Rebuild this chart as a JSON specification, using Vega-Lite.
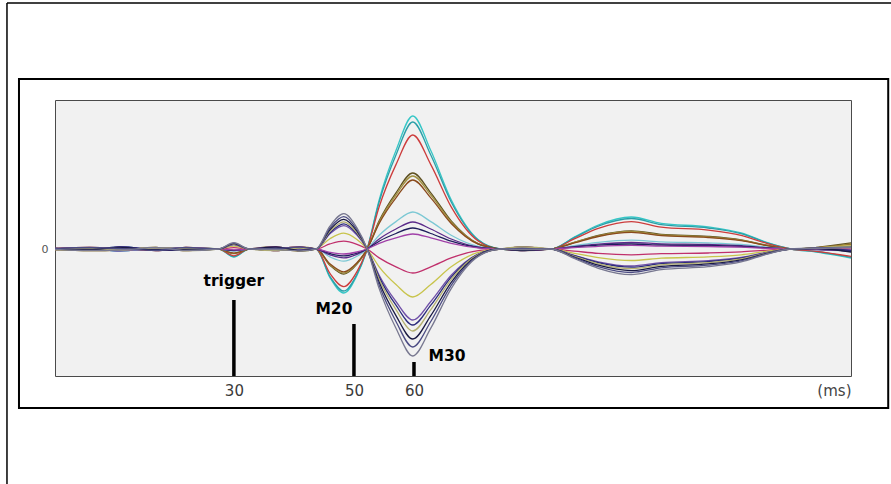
{
"$schema":"https://vega.github.io/schema/vega-lite/v6.json",
"width":796,"height":276,
"autosize":{"type":"none"},
"padding":{"left":55,"top":100,"right":40,"bottom":108},
"background":"white",
"config":{"view":{"fill":"#f1f1f1","stroke":"#4a4a4a","strokeWidth":1},"font":"DejaVu Sans"},
"datasets":{
"events":[{"ev":"trigger","t":30,"top":-51},{"ev":"M20","t":50,"top":-75},{"ev":"M30","t":60,"top":-113}],
"traces":[
{"c":"a","t":0.2,"v":0},{"c":"a","t":6,"v":1},{"c":"a","t":11,"v":-2},{"c":"a","t":17,"v":0.5},{"c":"a","t":22,"v":1},{"c":"a","t":27.5,"v":0},{"c":"a","t":30,"v":-8},{"c":"a","t":32.5,"v":0},{"c":"a","t":37,"v":1},{"c":"a","t":41,"v":-1},{"c":"a","t":43.7,"v":0},{"c":"a","t":46,"v":-28.6},{"c":"a","t":48.3,"v":-44},{"c":"a","t":50.5,"v":-26.4},{"c":"a","t":52.2,"v":0},{"c":"a","t":54.2,"v":49.2},{"c":"a","t":57,"v":98.4},{"c":"a","t":59.8,"v":133},{"c":"a","t":62.8,"v":98.4},{"c":"a","t":66.2,"v":49.2},{"c":"a","t":70.7,"v":9.3},{"c":"a","t":74.5,"v":0},{"c":"a","t":78,"v":1},{"c":"a","t":82.8,"v":0},{"c":"a","t":86.7,"v":11.8},{"c":"a","t":90.7,"v":24},{"c":"a","t":96.2,"v":32},{"c":"a","t":101.2,"v":25.6},{"c":"a","t":109,"v":22.1},{"c":"a","t":114.5,"v":16},{"c":"a","t":119,"v":6.1},{"c":"a","t":122.8,"v":0},{"c":"a","t":127,"v":-3},{"c":"a","t":132.8,"v":-9},
{"c":"b","t":0.2,"v":0.5},{"c":"b","t":6,"v":-1},{"c":"b","t":11,"v":2},{"c":"b","t":17,"v":-0.5},{"c":"b","t":22,"v":-1},{"c":"b","t":27.5,"v":0},{"c":"b","t":30,"v":-7.6},{"c":"b","t":32.5,"v":0},{"c":"b","t":37,"v":-1},{"c":"b","t":41,"v":1.5},{"c":"b","t":43.7,"v":0},{"c":"b","t":46,"v":-27.3},{"c":"b","t":48.3,"v":-42},{"c":"b","t":50.5,"v":-25.2},{"c":"b","t":52.2,"v":0},{"c":"b","t":54.2,"v":47},{"c":"b","t":57,"v":94},{"c":"b","t":59.8,"v":127},{"c":"b","t":62.8,"v":94},{"c":"b","t":66.2,"v":47},{"c":"b","t":70.7,"v":8.9},{"c":"b","t":74.5,"v":0},{"c":"b","t":78,"v":-1},{"c":"b","t":82.8,"v":0},{"c":"b","t":86.7,"v":11.3},{"c":"b","t":90.7,"v":22.9},{"c":"b","t":96.2,"v":30.5},{"c":"b","t":101.2,"v":24.4},{"c":"b","t":109,"v":21},{"c":"b","t":114.5,"v":15.3},{"c":"b","t":119,"v":5.8},{"c":"b","t":122.8,"v":0},{"c":"b","t":127,"v":-2.5},{"c":"b","t":132.8,"v":-8.3},
{"c":"c","t":0.2,"v":-0.5},{"c":"c","t":6,"v":0.5},{"c":"c","t":11,"v":-1},{"c":"c","t":17,"v":1},{"c":"c","t":22,"v":0.5},{"c":"c","t":27.5,"v":0},{"c":"c","t":30,"v":-6.8},{"c":"c","t":32.5,"v":0},{"c":"c","t":37,"v":-1.5},{"c":"c","t":41,"v":1},{"c":"c","t":43.7,"v":0},{"c":"c","t":46,"v":-24.4},{"c":"c","t":48.3,"v":-37.6},{"c":"c","t":50.5,"v":-22.6},{"c":"c","t":52.2,"v":0},{"c":"c","t":54.2,"v":42.2},{"c":"c","t":57,"v":84.4},{"c":"c","t":59.8,"v":114},{"c":"c","t":62.8,"v":84.4},{"c":"c","t":66.2,"v":42.2},{"c":"c","t":70.7,"v":8},{"c":"c","t":74.5,"v":0},{"c":"c","t":78,"v":2},{"c":"c","t":82.8,"v":0},{"c":"c","t":86.7,"v":10.1},{"c":"c","t":90.7,"v":20.6},{"c":"c","t":96.2,"v":27.4},{"c":"c","t":101.2,"v":21.9},{"c":"c","t":109,"v":18.9},{"c":"c","t":114.5,"v":13.7},{"c":"c","t":119,"v":5.2},{"c":"c","t":122.8,"v":0},{"c":"c","t":127,"v":-2.3},{"c":"c","t":132.8,"v":-7.4},
{"c":"d","t":0.2,"v":0},{"c":"d","t":6,"v":-0.5},{"c":"d","t":11,"v":1.5},{"c":"d","t":17,"v":-1},{"c":"d","t":22,"v":-0.5},{"c":"d","t":27.5,"v":0},{"c":"d","t":30,"v":-4.6},{"c":"d","t":32.5,"v":0},{"c":"d","t":37,"v":2},{"c":"d","t":41,"v":-1.5},{"c":"d","t":43.7,"v":0},{"c":"d","t":46,"v":-16.3},{"c":"d","t":48.3,"v":-25.1},{"c":"d","t":50.5,"v":-15.1},{"c":"d","t":52.2,"v":0},{"c":"d","t":54.2,"v":28.1},{"c":"d","t":57,"v":56.2},{"c":"d","t":59.8,"v":76},{"c":"d","t":62.8,"v":56.2},{"c":"d","t":66.2,"v":28.1},{"c":"d","t":70.7,"v":5.3},{"c":"d","t":74.5,"v":0},{"c":"d","t":78,"v":-1.5},{"c":"d","t":82.8,"v":0},{"c":"d","t":86.7,"v":6.7},{"c":"d","t":90.7,"v":13.7},{"c":"d","t":96.2,"v":18.2},{"c":"d","t":101.2,"v":14.6},{"c":"d","t":109,"v":12.6},{"c":"d","t":114.5,"v":9.1},{"c":"d","t":119,"v":3.5},{"c":"d","t":122.8,"v":0},{"c":"d","t":127,"v":1.5},{"c":"d","t":132.8,"v":6},
{"c":"e","t":0.2,"v":0.5},{"c":"e","t":6,"v":1.5},{"c":"e","t":11,"v":0.5},{"c":"e","t":17,"v":-1.5},{"c":"e","t":22,"v":1.5},{"c":"e","t":27.5,"v":0},{"c":"e","t":30,"v":-4.4},{"c":"e","t":32.5,"v":0},{"c":"e","t":37,"v":0.5},{"c":"e","t":41,"v":2},{"c":"e","t":43.7,"v":0},{"c":"e","t":46,"v":-15.7},{"c":"e","t":48.3,"v":-24.1},{"c":"e","t":50.5,"v":-14.5},{"c":"e","t":52.2,"v":0},{"c":"e","t":54.2,"v":27},{"c":"e","t":57,"v":54},{"c":"e","t":59.8,"v":73},{"c":"e","t":62.8,"v":54},{"c":"e","t":66.2,"v":27},{"c":"e","t":70.7,"v":5.1},{"c":"e","t":74.5,"v":0},{"c":"e","t":78,"v":0.5},{"c":"e","t":82.8,"v":0},{"c":"e","t":86.7,"v":6.5},{"c":"e","t":90.7,"v":13.1},{"c":"e","t":96.2,"v":17.5},{"c":"e","t":101.2,"v":14},{"c":"e","t":109,"v":12.1},{"c":"e","t":114.5,"v":8.8},{"c":"e","t":119,"v":3.3},{"c":"e","t":122.8,"v":0},{"c":"e","t":127,"v":1},{"c":"e","t":132.8,"v":5},
{"c":"f","t":0.2,"v":-0.5},{"c":"f","t":6,"v":-1.5},{"c":"f","t":11,"v":-1},{"c":"f","t":17,"v":1.5},{"c":"f","t":22,"v":-1.5},{"c":"f","t":27.5,"v":0},{"c":"f","t":30,"v":-4.1},{"c":"f","t":32.5,"v":0},{"c":"f","t":37,"v":-0.5},{"c":"f","t":41,"v":-2},{"c":"f","t":43.7,"v":0},{"c":"f","t":46,"v":-14.8},{"c":"f","t":48.3,"v":-22.8},{"c":"f","t":50.5,"v":-13.7},{"c":"f","t":52.2,"v":0},{"c":"f","t":54.2,"v":25.5},{"c":"f","t":57,"v":51.1},{"c":"f","t":59.8,"v":69},{"c":"f","t":62.8,"v":51.1},{"c":"f","t":66.2,"v":25.5},{"c":"f","t":70.7,"v":4.8},{"c":"f","t":74.5,"v":0},{"c":"f","t":78,"v":-0.5},{"c":"f","t":82.8,"v":0},{"c":"f","t":86.7,"v":6.1},{"c":"f","t":90.7,"v":12.5},{"c":"f","t":96.2,"v":16.6},{"c":"f","t":101.2,"v":13.3},{"c":"f","t":109,"v":11.5},{"c":"f","t":114.5,"v":8.3},{"c":"f","t":119,"v":3.2},{"c":"f","t":122.8,"v":0},{"c":"f","t":127,"v":1.2},{"c":"f","t":132.8,"v":4},
{"c":"g","t":0.2,"v":0},{"c":"g","t":6,"v":1},{"c":"g","t":11,"v":-2},{"c":"g","t":17,"v":0.5},{"c":"g","t":22,"v":1},{"c":"g","t":27.5,"v":0},{"c":"g","t":30,"v":-2.2},{"c":"g","t":32.5,"v":0},{"c":"g","t":37,"v":1},{"c":"g","t":41,"v":-1},{"c":"g","t":43.7,"v":0},{"c":"g","t":46,"v":-7.9},{"c":"g","t":48.3,"v":-12.2},{"c":"g","t":50.5,"v":-7.3},{"c":"g","t":52.2,"v":0},{"c":"g","t":54.2,"v":13.7},{"c":"g","t":57,"v":27.4},{"c":"g","t":59.8,"v":37},{"c":"g","t":62.8,"v":27.4},{"c":"g","t":66.2,"v":13.7},{"c":"g","t":70.7,"v":2.6},{"c":"g","t":74.5,"v":0},{"c":"g","t":78,"v":1},{"c":"g","t":82.8,"v":0},{"c":"g","t":86.7,"v":3.3},{"c":"g","t":90.7,"v":6.7},{"c":"g","t":96.2,"v":8.9},{"c":"g","t":101.2,"v":7.1},{"c":"g","t":109,"v":6.1},{"c":"g","t":114.5,"v":4.5},{"c":"g","t":119,"v":1.7},{"c":"g","t":122.8,"v":0},{"c":"g","t":127,"v":-0.7},{"c":"g","t":132.8,"v":-2.4},
{"c":"h","t":0.2,"v":0.5},{"c":"h","t":6,"v":-1},{"c":"h","t":11,"v":2},{"c":"h","t":17,"v":-0.5},{"c":"h","t":22,"v":-1},{"c":"h","t":27.5,"v":0},{"c":"h","t":30,"v":-1.6},{"c":"h","t":32.5,"v":0},{"c":"h","t":37,"v":-1},{"c":"h","t":41,"v":1.5},{"c":"h","t":43.7,"v":0},{"c":"h","t":46,"v":-5.8},{"c":"h","t":48.3,"v":-8.9},{"c":"h","t":50.5,"v":-5.3},{"c":"h","t":52.2,"v":0},{"c":"h","t":54.2,"v":10},{"c":"h","t":57,"v":20},{"c":"h","t":59.8,"v":27},{"c":"h","t":62.8,"v":20},{"c":"h","t":66.2,"v":10},{"c":"h","t":70.7,"v":1.9},{"c":"h","t":74.5,"v":0},{"c":"h","t":78,"v":-1},{"c":"h","t":82.8,"v":0},{"c":"h","t":86.7,"v":2.4},{"c":"h","t":90.7,"v":4.9},{"c":"h","t":96.2,"v":6.5},{"c":"h","t":101.2,"v":5.2},{"c":"h","t":109,"v":4.5},{"c":"h","t":114.5,"v":3.3},{"c":"h","t":119,"v":1.2},{"c":"h","t":122.8,"v":0},{"c":"h","t":127,"v":-0.5},{"c":"h","t":132.8,"v":-1.8},
{"c":"i","t":0.2,"v":-0.5},{"c":"i","t":6,"v":0.5},{"c":"i","t":11,"v":-1},{"c":"i","t":17,"v":1},{"c":"i","t":22,"v":0.5},{"c":"i","t":27.5,"v":0},{"c":"i","t":30,"v":-1.3},{"c":"i","t":32.5,"v":0},{"c":"i","t":37,"v":-1.5},{"c":"i","t":41,"v":1},{"c":"i","t":43.7,"v":0},{"c":"i","t":46,"v":-4.5},{"c":"i","t":48.3,"v":-6.9},{"c":"i","t":50.5,"v":-4.1},{"c":"i","t":52.2,"v":0},{"c":"i","t":54.2,"v":7.8},{"c":"i","t":57,"v":15.5},{"c":"i","t":59.8,"v":21},{"c":"i","t":62.8,"v":15.5},{"c":"i","t":66.2,"v":7.8},{"c":"i","t":70.7,"v":1.5},{"c":"i","t":74.5,"v":0},{"c":"i","t":78,"v":2},{"c":"i","t":82.8,"v":0},{"c":"i","t":86.7,"v":1.9},{"c":"i","t":90.7,"v":3.8},{"c":"i","t":96.2,"v":5},{"c":"i","t":101.2,"v":4},{"c":"i","t":109,"v":3.5},{"c":"i","t":114.5,"v":2.5},{"c":"i","t":119,"v":1},{"c":"i","t":122.8,"v":0},{"c":"i","t":127,"v":-0.4},{"c":"i","t":132.8,"v":-1.4},
{"c":"j","t":0.2,"v":0},{"c":"j","t":6,"v":-0.5},{"c":"j","t":11,"v":1.5},{"c":"j","t":17,"v":-1},{"c":"j","t":22,"v":-0.5},{"c":"j","t":27.5,"v":0},{"c":"j","t":30,"v":-0.9},{"c":"j","t":32.5,"v":0},{"c":"j","t":37,"v":2},{"c":"j","t":41,"v":-1.5},{"c":"j","t":43.7,"v":0},{"c":"j","t":46,"v":-3.3},{"c":"j","t":48.3,"v":-5},{"c":"j","t":50.5,"v":-3},{"c":"j","t":52.2,"v":0},{"c":"j","t":54.2,"v":5.6},{"c":"j","t":57,"v":11.1},{"c":"j","t":59.8,"v":15},{"c":"j","t":62.8,"v":11.1},{"c":"j","t":66.2,"v":5.6},{"c":"j","t":70.7,"v":1.1},{"c":"j","t":74.5,"v":0},{"c":"j","t":78,"v":-1.5},{"c":"j","t":82.8,"v":0},{"c":"j","t":86.7,"v":1.3},{"c":"j","t":90.7,"v":2.7},{"c":"j","t":96.2,"v":3.6},{"c":"j","t":101.2,"v":2.9},{"c":"j","t":109,"v":2.5},{"c":"j","t":114.5,"v":1.8},{"c":"j","t":119,"v":0.7},{"c":"j","t":122.8,"v":0},{"c":"j","t":127,"v":-0.3},{"c":"j","t":132.8,"v":-1},
{"c":"k","t":0.2,"v":0.5},{"c":"k","t":6,"v":1.5},{"c":"k","t":11,"v":0.5},{"c":"k","t":17,"v":-1.5},{"c":"k","t":22,"v":1.5},{"c":"k","t":27.5,"v":0},{"c":"k","t":30,"v":1.4},{"c":"k","t":32.5,"v":0},{"c":"k","t":37,"v":0.5},{"c":"k","t":41,"v":2},{"c":"k","t":43.7,"v":0},{"c":"k","t":46,"v":5.1},{"c":"k","t":48.3,"v":7.9},{"c":"k","t":50.5,"v":4.7},{"c":"k","t":52.2,"v":0},{"c":"k","t":54.2,"v":-8.9},{"c":"k","t":57,"v":-17.8},{"c":"k","t":59.8,"v":-24},{"c":"k","t":62.8,"v":-17.8},{"c":"k","t":66.2,"v":-8.9},{"c":"k","t":70.7,"v":-1.7},{"c":"k","t":74.5,"v":0},{"c":"k","t":78,"v":0.5},{"c":"k","t":82.8,"v":0},{"c":"k","t":86.7,"v":-2.1},{"c":"k","t":90.7,"v":-4.4},{"c":"k","t":96.2,"v":-5.8},{"c":"k","t":101.2,"v":-4.6},{"c":"k","t":109,"v":-4},{"c":"k","t":114.5,"v":-2.9},{"c":"k","t":119,"v":-1.1},{"c":"k","t":122.8,"v":0},{"c":"k","t":127,"v":0.5},{"c":"k","t":132.8,"v":1},
{"c":"l","t":0.2,"v":-0.5},{"c":"l","t":6,"v":-1.5},{"c":"l","t":11,"v":-1},{"c":"l","t":17,"v":1.5},{"c":"l","t":22,"v":-1.5},{"c":"l","t":27.5,"v":0},{"c":"l","t":30,"v":2.9},{"c":"l","t":32.5,"v":0},{"c":"l","t":37,"v":-0.5},{"c":"l","t":41,"v":-2},{"c":"l","t":43.7,"v":0},{"c":"l","t":46,"v":10.3},{"c":"l","t":48.3,"v":15.8},{"c":"l","t":50.5,"v":9.5},{"c":"l","t":52.2,"v":0},{"c":"l","t":54.2,"v":-17.8},{"c":"l","t":57,"v":-35.5},{"c":"l","t":59.8,"v":-48},{"c":"l","t":62.8,"v":-35.5},{"c":"l","t":66.2,"v":-17.8},{"c":"l","t":70.7,"v":-3.4},{"c":"l","t":74.5,"v":0},{"c":"l","t":78,"v":-0.5},{"c":"l","t":82.8,"v":0},{"c":"l","t":86.7,"v":-4.3},{"c":"l","t":90.7,"v":-8.6},{"c":"l","t":96.2,"v":-11.5},{"c":"l","t":101.2,"v":-9.2},{"c":"l","t":109,"v":-7.9},{"c":"l","t":114.5,"v":-5.8},{"c":"l","t":119,"v":-2.2},{"c":"l","t":122.8,"v":0},{"c":"l","t":127,"v":1},{"c":"l","t":132.8,"v":3.5},
{"c":"m","t":0.2,"v":0},{"c":"m","t":6,"v":1},{"c":"m","t":11,"v":-2},{"c":"m","t":17,"v":0.5},{"c":"m","t":22,"v":1},{"c":"m","t":27.5,"v":0},{"c":"m","t":30,"v":4.3},{"c":"m","t":32.5,"v":0},{"c":"m","t":37,"v":1},{"c":"m","t":41,"v":-1},{"c":"m","t":43.7,"v":0},{"c":"m","t":46,"v":15.2},{"c":"m","t":48.3,"v":23.4},{"c":"m","t":50.5,"v":14},{"c":"m","t":52.2,"v":0},{"c":"m","t":54.2,"v":-26.3},{"c":"m","t":57,"v":-52.5},{"c":"m","t":59.8,"v":-71},{"c":"m","t":62.8,"v":-52.5},{"c":"m","t":66.2,"v":-26.3},{"c":"m","t":70.7,"v":-5},{"c":"m","t":74.5,"v":0},{"c":"m","t":78,"v":1},{"c":"m","t":82.8,"v":0},{"c":"m","t":86.7,"v":-6.3},{"c":"m","t":90.7,"v":-12.8},{"c":"m","t":96.2,"v":-17},{"c":"m","t":101.2,"v":-13.6},{"c":"m","t":109,"v":-11.7},{"c":"m","t":114.5,"v":-8.5},{"c":"m","t":119,"v":-3.2},{"c":"m","t":122.8,"v":0},{"c":"m","t":127,"v":0.5},{"c":"m","t":132.8,"v":-2.5},
{"c":"n","t":0.2,"v":0.5},{"c":"n","t":6,"v":-1},{"c":"n","t":11,"v":2},{"c":"n","t":17,"v":-0.5},{"c":"n","t":22,"v":-1},{"c":"n","t":27.5,"v":0},{"c":"n","t":30,"v":4.6},{"c":"n","t":32.5,"v":0},{"c":"n","t":37,"v":-1},{"c":"n","t":41,"v":1.5},{"c":"n","t":43.7,"v":0},{"c":"n","t":46,"v":16.3},{"c":"n","t":48.3,"v":25.1},{"c":"n","t":50.5,"v":15.1},{"c":"n","t":52.2,"v":0},{"c":"n","t":54.2,"v":-28.1},{"c":"n","t":57,"v":-56.2},{"c":"n","t":59.8,"v":-76},{"c":"n","t":62.8,"v":-56.2},{"c":"n","t":66.2,"v":-28.1},{"c":"n","t":70.7,"v":-5.3},{"c":"n","t":74.5,"v":0},{"c":"n","t":78,"v":-1},{"c":"n","t":82.8,"v":0},{"c":"n","t":86.7,"v":-6.7},{"c":"n","t":90.7,"v":-13.7},{"c":"n","t":96.2,"v":-18.2},{"c":"n","t":101.2,"v":-14.6},{"c":"n","t":109,"v":-12.6},{"c":"n","t":114.5,"v":-9.1},{"c":"n","t":119,"v":-3.5},{"c":"n","t":122.8,"v":0},{"c":"n","t":127,"v":0.5},{"c":"n","t":132.8,"v":-1.5},
{"c":"o","t":0.2,"v":-0.5},{"c":"o","t":6,"v":0.5},{"c":"o","t":11,"v":-1},{"c":"o","t":17,"v":1},{"c":"o","t":22,"v":0.5},{"c":"o","t":27.5,"v":0},{"c":"o","t":30,"v":4.9},{"c":"o","t":32.5,"v":0},{"c":"o","t":37,"v":-1.5},{"c":"o","t":41,"v":1},{"c":"o","t":43.7,"v":0},{"c":"o","t":46,"v":17.6},{"c":"o","t":48.3,"v":27.1},{"c":"o","t":50.5,"v":16.3},{"c":"o","t":52.2,"v":0},{"c":"o","t":54.2,"v":-30.3},{"c":"o","t":57,"v":-60.7},{"c":"o","t":59.8,"v":-82},{"c":"o","t":62.8,"v":-60.7},{"c":"o","t":66.2,"v":-30.3},{"c":"o","t":70.7,"v":-5.7},{"c":"o","t":74.5,"v":0},{"c":"o","t":78,"v":2},{"c":"o","t":82.8,"v":0},{"c":"o","t":86.7,"v":-7.3},{"c":"o","t":90.7,"v":-14.8},{"c":"o","t":96.2,"v":-19.7},{"c":"o","t":101.2,"v":-15.8},{"c":"o","t":109,"v":-13.6},{"c":"o","t":114.5,"v":-9.9},{"c":"o","t":119,"v":-3.7},{"c":"o","t":122.8,"v":0},{"c":"o","t":127,"v":1},{"c":"o","t":132.8,"v":3},
{"c":"p","t":0.2,"v":0},{"c":"p","t":6,"v":-0.5},{"c":"p","t":11,"v":1.5},{"c":"p","t":17,"v":-1},{"c":"p","t":22,"v":-0.5},{"c":"p","t":27.5,"v":0},{"c":"p","t":30,"v":5.4},{"c":"p","t":32.5,"v":0},{"c":"p","t":37,"v":2},{"c":"p","t":41,"v":-1.5},{"c":"p","t":43.7,"v":0},{"c":"p","t":46,"v":19.3},{"c":"p","t":48.3,"v":29.7},{"c":"p","t":50.5,"v":17.8},{"c":"p","t":52.2,"v":0},{"c":"p","t":54.2,"v":-33.3},{"c":"p","t":57,"v":-66.6},{"c":"p","t":59.8,"v":-90},{"c":"p","t":62.8,"v":-66.6},{"c":"p","t":66.2,"v":-33.3},{"c":"p","t":70.7,"v":-6.3},{"c":"p","t":74.5,"v":0},{"c":"p","t":78,"v":-1.5},{"c":"p","t":82.8,"v":0},{"c":"p","t":86.7,"v":-8},{"c":"p","t":90.7,"v":-16.2},{"c":"p","t":96.2,"v":-21.6},{"c":"p","t":101.2,"v":-17.3},{"c":"p","t":109,"v":-14.9},{"c":"p","t":114.5,"v":-10.8},{"c":"p","t":119,"v":-4.1},{"c":"p","t":122.8,"v":0},{"c":"p","t":127,"v":0.5},{"c":"p","t":132.8,"v":-3},
{"c":"q","t":0.2,"v":0.5},{"c":"q","t":6,"v":1.5},{"c":"q","t":11,"v":0.5},{"c":"q","t":17,"v":-1.5},{"c":"q","t":22,"v":1.5},{"c":"q","t":27.5,"v":0},{"c":"q","t":30,"v":5.9},{"c":"q","t":32.5,"v":0},{"c":"q","t":37,"v":0.5},{"c":"q","t":41,"v":2},{"c":"q","t":43.7,"v":0},{"c":"q","t":46,"v":21},{"c":"q","t":48.3,"v":32.3},{"c":"q","t":50.5,"v":19.4},{"c":"q","t":52.2,"v":0},{"c":"q","t":54.2,"v":-36.3},{"c":"q","t":57,"v":-72.5},{"c":"q","t":59.8,"v":-98},{"c":"q","t":62.8,"v":-72.5},{"c":"q","t":66.2,"v":-36.3},{"c":"q","t":70.7,"v":-6.9},{"c":"q","t":74.5,"v":0},{"c":"q","t":78,"v":0.5},{"c":"q","t":82.8,"v":0},{"c":"q","t":86.7,"v":-8.7},{"c":"q","t":90.7,"v":-17.6},{"c":"q","t":96.2,"v":-23.5},{"c":"q","t":101.2,"v":-18.8},{"c":"q","t":109,"v":-16.2},{"c":"q","t":114.5,"v":-11.8},{"c":"q","t":119,"v":-4.5},{"c":"q","t":122.8,"v":0},{"c":"q","t":127,"v":1},{"c":"q","t":132.8,"v":2},
{"c":"r","t":0.2,"v":-0.5},{"c":"r","t":6,"v":-1.5},{"c":"r","t":11,"v":-1},{"c":"r","t":17,"v":1.5},{"c":"r","t":22,"v":-1.5},{"c":"r","t":27.5,"v":0},{"c":"r","t":30,"v":6.4},{"c":"r","t":32.5,"v":0},{"c":"r","t":37,"v":-0.5},{"c":"r","t":41,"v":-2},{"c":"r","t":43.7,"v":0},{"c":"r","t":46,"v":22.9},{"c":"r","t":48.3,"v":35.3},{"c":"r","t":50.5,"v":21.2},{"c":"r","t":52.2,"v":0},{"c":"r","t":54.2,"v":-39.6},{"c":"r","t":57,"v":-79.2},{"c":"r","t":59.8,"v":-107},{"c":"r","t":62.8,"v":-79.2},{"c":"r","t":66.2,"v":-39.6},{"c":"r","t":70.7,"v":-7.5},{"c":"r","t":74.5,"v":0},{"c":"r","t":78,"v":-0.5},{"c":"r","t":82.8,"v":0},{"c":"r","t":86.7,"v":-9.5},{"c":"r","t":90.7,"v":-19.3},{"c":"r","t":96.2,"v":-25.7},{"c":"r","t":101.2,"v":-20.6},{"c":"r","t":109,"v":-17.7},{"c":"r","t":114.5,"v":-12.9},{"c":"r","t":119,"v":-4.9},{"c":"r","t":122.8,"v":0},{"c":"r","t":127,"v":0.5},{"c":"r","t":132.8,"v":1.5}
]},
"layer":[
{"data":{"name":"traces"},"mark":{"type":"line","interpolate":"monotone","strokeWidth":1.3,"clip":true},
 "encoding":{
  "x":{"field":"t","type":"quantitative","scale":{"domain":[0.2,132.8],"nice":false,"zero":false},
   "axis":{"values":[30,50,60],"title":"(ms)","titleAnchor":"end","titleAlign":"right","titleBaseline":"top","titleY":7,"titleFontWeight":"normal","titleFontSize":15,"titleColor":"#444444","labelFontSize":15,"labelColor":"#3a3a3a","labelPadding":7,"ticks":false,"domain":false,"grid":false}},
  "y":{"field":"v","type":"quantitative","scale":{"domain":[-127,149],"nice":false,"zero":false},
   "axis":{"values":[0],"title":null,"labelFontSize":11,"labelColor":"#555555","labelPadding":7,"ticks":false,"domain":false,"grid":false}},
  "color":{"field":"c","type":"nominal","legend":null,
   "scale":{"domain":["a","b","c","d","e","f","g","h","i","j","k","l","m","n","o","p","q","r"],
   "range":["#36c6c6","#2a9fa8","#cc3c3c","#5e5020","#a09040","#8a4a1c","#7cc8d4","#5a2a8a","#1e1e5c","#a040a8","#c0306c","#c8c44c","#7050a8","#2c2c7c","#b4b070","#1a1a44","#4c4c84","#787890"]}},
  "detail":{"field":"c"}}},
{"data":{"values":[{}]},"mark":{"type":"rule","color":"black","strokeWidth":1.5,"clip":false},
 "encoding":{"x":{"datum":-7.8,"type":"quantitative"},"y":{"datum":246,"type":"quantitative"},"y2":{"datum":-240}}},
{"data":{"values":[{}]},"mark":{"type":"rule","color":"black","strokeWidth":1.5,"clip":false},
 "encoding":{"x":{"datum":-7.8,"type":"quantitative"},"x2":{"datum":150},"y":{"datum":246,"type":"quantitative"}}},
{"data":{"values":[{}]},"mark":{"type":"rect","filled":false,"color":"black","strokeWidth":2,"clip":false},
 "encoding":{"x":{"datum":-5.8,"type":"quantitative"},"x2":{"datum":139},"y":{"datum":170,"type":"quantitative"},"y2":{"datum":-159}}},
{"data":{"name":"events"},"mark":{"type":"rule","color":"black","strokeWidth":3.5},
 "encoding":{"x":{"field":"t","type":"quantitative"},"y":{"field":"top","type":"quantitative"},"y2":{"datum":-127}}},
{"data":{"name":"events"},"transform":[{"filter":"datum.ev === 'trigger'"}],
 "mark":{"type":"text","font":"DejaVu Sans","fontWeight":"bold","fontSize":15.5,"color":"black","align":"center","baseline":"alphabetic","dy":-14},
 "encoding":{"x":{"field":"t","type":"quantitative"},"y":{"field":"top","type":"quantitative"},"text":{"field":"ev"}}},
{"data":{"name":"events"},"transform":[{"filter":"datum.ev === 'M20'"}],
 "mark":{"type":"text","font":"DejaVu Sans","fontWeight":"bold","fontSize":15.5,"color":"black","align":"center","baseline":"alphabetic","dx":-20,"dy":-10},
 "encoding":{"x":{"field":"t","type":"quantitative"},"y":{"field":"top","type":"quantitative"},"text":{"field":"ev"}}},
{"data":{"name":"events"},"transform":[{"filter":"datum.ev === 'M30'"}],
 "mark":{"type":"text","font":"DejaVu Sans","fontWeight":"bold","fontSize":15.5,"color":"black","align":"center","baseline":"alphabetic","dx":33,"dy":-1},
 "encoding":{"x":{"field":"t","type":"quantitative"},"y":{"field":"top","type":"quantitative"},"text":{"field":"ev"}}}
]
}
